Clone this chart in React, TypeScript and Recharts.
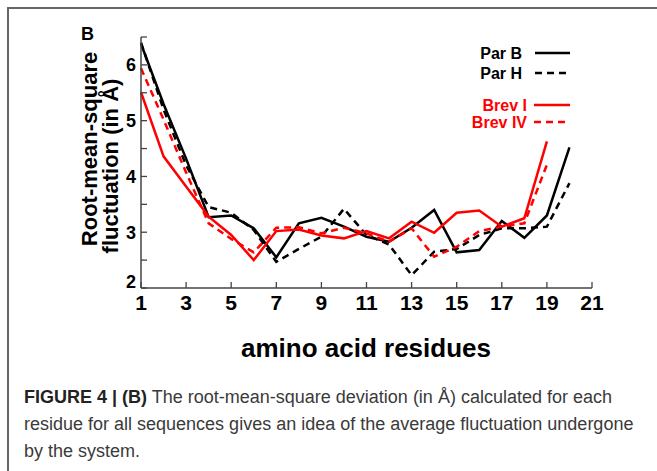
import React from 'react';
import { LineChart, Line, XAxis, YAxis, Legend } from 'recharts';

// residue index on the x axis
const residues = [1, 2, 3, 4, 5, 6, 7, 8, 9, 10, 11, 12, 13, 14, 15, 16, 17, 18, 19, 20];

// RMSF per residue (in Å)
const parB = [6.38, 5.3, 4.32, 3.27, 3.3, 3.07, 2.55, 3.16, 3.26, 3.1, 2.92, 2.83, 3.08, 3.4, 2.64, 2.68, 3.2, 2.9, 3.3, 4.52];
const parH = [6.4, 5.2, 4.2, 3.45, 3.35, 3.04, 2.47, 2.7, 2.92, 3.42, 2.95, 2.78, 2.23, 2.65, 2.7, 2.95, 3.07, 3.07, 3.1, 3.88];
const brevI = [5.51, 4.36, 3.82, 3.28, 2.95, 2.5, 3.02, 3.05, 2.94, 2.89, 3.02, 2.89, 3.19, 2.99, 3.35, 3.39, 3.1, 3.25, 4.63];
const brevIV = [5.94, 5.02, 4.07, 3.16, 2.88, 2.64, 3.08, 3.09, 2.98, 3.08, 2.98, 2.83, 3.07, 2.56, 2.74, 3.02, 3.1, 3.16, 4.21];

const xTicks = [1, 3, 5, 7, 9, 11, 13, 15, 17, 19, 21];
const yTicks = [2, 2.5, 3, 3.5, 4, 4.5, 5, 5.5, 6, 6.5];

const series = [
  { key: 'parB', name: 'Par B', color: '#000000', dash: undefined },
  { key: 'parH', name: 'Par H', color: '#000000', dash: '7 5' },
  { key: 'brevI', name: 'Brev I', color: '#ff0000', dash: undefined },
  { key: 'brevIV', name: 'Brev IV', color: '#ff0000', dash: '7 5' },
];

const captionLines = [
  'The root-mean-square deviation (in Å) calculated for each',
  'residue for all sequences gives an idea of the average fluctuation undergone',
  'by the system.',
];

const data = residues.map((x, i) => ({
  x,
  parB: parB[i],
  parH: parH[i],
  brevI: brevI[i],
  brevIV: brevIV[i],
}));

const FONT = '"Liberation Sans", Arial, Helvetica, sans-serif';
const AXIS = '#444';
const TICK = 6;

// ticks are drawn inward, like the original plot
const BottomTick = (props: any) => {
  const { x, y, payload } = props;
  return (
    <g>
      <line x1={x} y1={y} x2={x} y2={y - TICK} stroke={AXIS} strokeWidth={1.3} />
      <text x={x} y={y + 22} textAnchor="middle" fontFamily={FONT} fontWeight="bold" fontSize={21} fill="#000">
        {payload.value}
      </text>
    </g>
  );
};

const TopTick = (props: any) => {
  const { x, y } = props;
  return <line x1={x} y1={y} x2={x} y2={y + TICK} stroke={AXIS} strokeWidth={1.3} />;
};

const LeftTick = (props: any) => {
  const { x, y, payload } = props;
  const v = payload.value;
  const isInt = Number.isInteger(v);
  return (
    <g>
      <line x1={x} y1={y} x2={x + TICK} y2={y} stroke={AXIS} strokeWidth={1.3} />
      {isInt && (
        <text x={x - 5} y={v === 2 ? y - 6 : y} dy="0.36em" textAnchor="end" fontFamily={FONT} fontWeight="bold" fontSize={18} fill="#000">
          {v}
        </text>
      )}
    </g>
  );
};

const RightTick = (props: any) => {
  const { x, y } = props;
  return <line x1={x} y1={y} x2={x - TICK} y2={y} stroke={AXIS} strokeWidth={1.3} />;
};

const renderLegend = () => {
  const rows = [13, 33, 65, 82];
  return (
    <svg width={150} height={95} style={{ display: 'block' }}>
      {series.map((s, i) => {
        const red = s.color !== '#000000';
        return (
          <g key={s.key}>
            <text x={red ? 97 : 92} y={rows[i]} dy="0.36em" textAnchor="end" fontFamily={FONT} fontWeight="bold" fontSize={16} fill={s.color}>
              {s.name}
            </text>
            <line x1={red ? 104 : 105} y1={rows[i]} x2={140} y2={rows[i]} stroke={s.color} strokeWidth={2.5} strokeDasharray={s.dash} />
          </g>
        );
      })}
    </svg>
  );
};

export default function App() {
  return (
    <div style={{ position: 'absolute', left: 0, top: 0, width: 657, height: 471, background: '#fff', overflow: 'hidden' }}>
      {/* figure frame */}
      <div style={{ position: 'absolute', left: 7, top: 7, width: 700, height: 500, borderTop: '2px solid #666', borderLeft: '2px solid #666' }} />

      <div style={{ position: 'absolute', left: 0, top: 0 }}>
        <LineChart width={657} height={360} data={data} margin={{ top: 37, right: 65, bottom: 0, left: 0 }}>
          <XAxis
            xAxisId="b"
            dataKey="x"
            type="number"
            domain={[1, 21]}
            ticks={xTicks}
            height={72}
            tickSize={0}
            tickMargin={0}
            tickLine={false}
            axisLine={{ stroke: AXIS, strokeWidth: 1.5 }}
            tick={BottomTick}
            interval={0}
          />
          <XAxis
            xAxisId="t"
            orientation="top"
            dataKey="x"
            type="number"
            domain={[1, 21]}
            ticks={xTicks}
            height={0}
            tickSize={0}
            tickMargin={0}
            tickLine={false}
            axisLine={{ stroke: AXIS, strokeWidth: 1.5 }}
            tick={TopTick}
            interval={0}
          />
          <YAxis
            yAxisId="l"
            type="number"
            domain={[2, 6.5]}
            ticks={yTicks}
            width={141}
            tickSize={0}
            tickMargin={0}
            tickLine={false}
            axisLine={{ stroke: AXIS, strokeWidth: 1.5 }}
            tick={LeftTick}
            interval={0}
          />
          <YAxis
            yAxisId="r"
            orientation="right"
            type="number"
            domain={[2, 6.5]}
            ticks={yTicks}
            width={0}
            tickSize={0}
            tickMargin={0}
            tickLine={false}
            axisLine={{ stroke: AXIS, strokeWidth: 1.5 }}
            tick={RightTick}
            interval={0}
          />
          <Legend
            layout="vertical"
            align="center"
            verticalAlign="middle"
            content={renderLegend}
            wrapperStyle={{ position: 'absolute', left: 430, top: 40, width: 150, height: 95 }}
          />
          {series.map(s => (
            <Line
              key={s.key}
              xAxisId="b"
              yAxisId="l"
              type="linear"
              dataKey={s.key}
              name={s.name}
              stroke={s.color}
              strokeWidth={2.5}
              strokeDasharray={s.dash}
              dot={false}
              activeDot={false}
              isAnimationActive={false}
            />
          ))}
        </LineChart>
      </div>

      {/* panel letter and axis titles */}
      <svg width={657} height={380} style={{ position: 'absolute', left: 0, top: 0, pointerEvents: 'none' }}>
        <text x={81} y={40} fontFamily={FONT} fontWeight="bold" fontSize={18} fill="#000">B</text>
        <text transform="translate(97,149) rotate(-90)" textAnchor="middle" fontFamily={FONT} fontWeight="bold" fontSize={22} fill="#000">
          Root-mean-square
        </text>
        <text transform="translate(118,166) rotate(-90)" textAnchor="middle" fontFamily={FONT} fontWeight="bold" fontSize={22} fill="#000">
          fluctuation (in Å)
        </text>
        <text x={366} y={357} textAnchor="middle" fontFamily={FONT} fontWeight="bold" fontSize={26} fill="#000">
          amino acid residues
        </text>
      </svg>

      {/* caption */}
      <div
        style={{
          position: 'absolute',
          left: 24,
          top: 384,
          fontFamily: FONT,
          fontSize: 18,
          lineHeight: '27px',
          color: '#3a3a3a',
          whiteSpace: 'nowrap',
        }}
      >
        <div>
          <b style={{ color: '#222' }}>FIGURE 4 | (B)</b> <span>{captionLines[0]}</span>
        </div>
        <div>{captionLines[1]}</div>
        <div>{captionLines[2]}</div>
      </div>
    </div>
  );
}
